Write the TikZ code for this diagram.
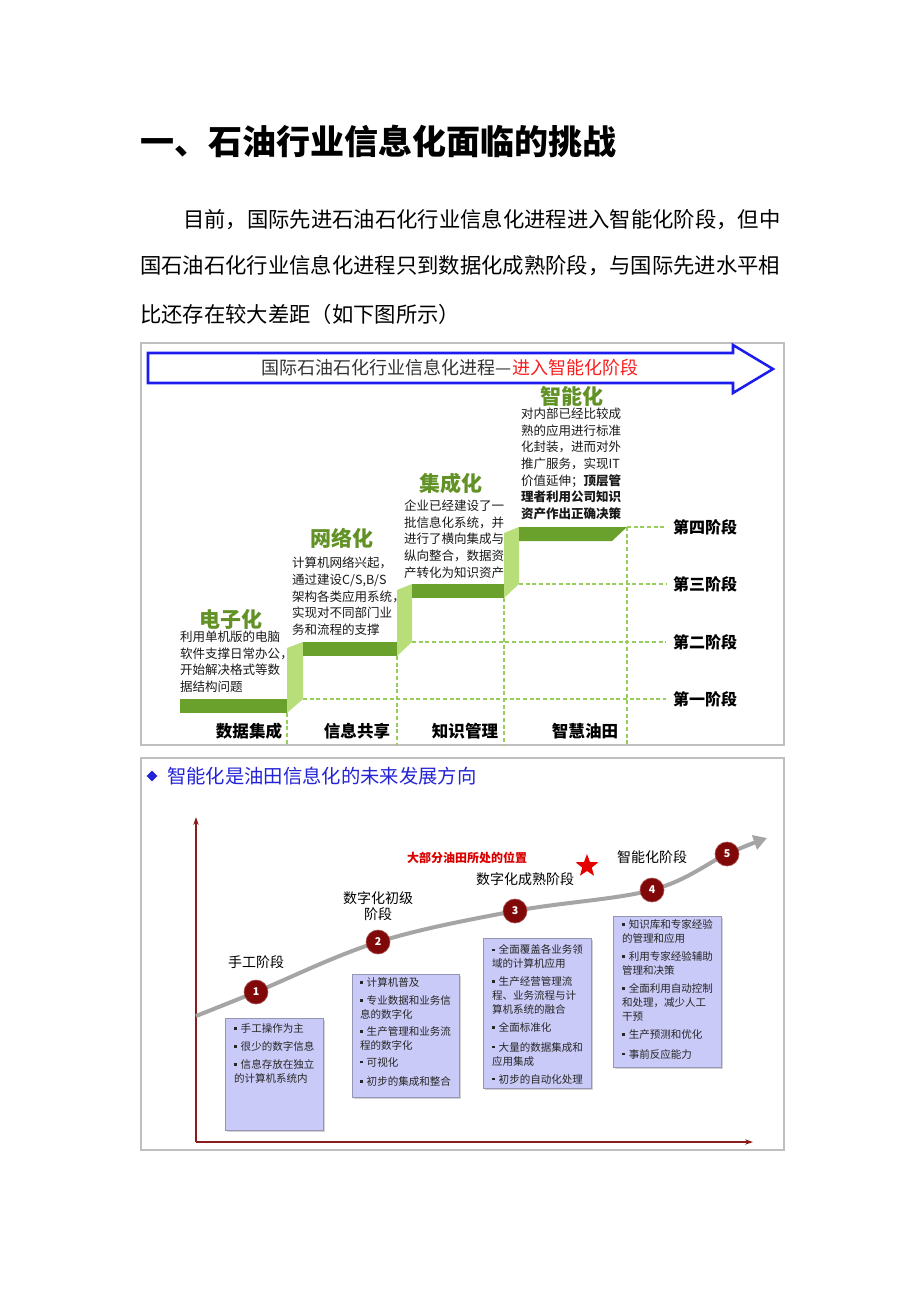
\documentclass[tikz,border=0pt]{standalone}
\usepackage{fontspec}
\setmainfont{Noto Sans CJK SC}
\usetikzlibrary{arrows.meta, positioning, shadows, shapes.geometric}

\definecolor{stepdark}{RGB}{106,160,44}
\definecolor{steplight}{RGB}{184,222,122}
\definecolor{guidegreen}{RGB}{150,206,92}
\definecolor{phasegreen}{RGB}{98,146,38}
\definecolor{bannerblue}{RGB}{28,28,238}
\definecolor{bannerred}{RGB}{250,30,30}
\definecolor{axisred}{RGB}{138,28,28}
\definecolor{ballred}{RGB}{128,8,8}
\definecolor{boxfill}{RGB}{202,202,248}
\definecolor{boxline}{RGB}{150,150,180}
\definecolor{titleblue}{RGB}{36,36,214}
\definecolor{trendgray}{RGB}{165,165,165}

\newcommand{\bulsq}{\rule[0.28em]{0.24em}{0.24em}\hspace{0.4em}}

\tikzset{
	every node/.style={inner sep=0pt, outer sep=0pt},
	heading/.style={anchor=west, font=\fontsize{25.5}{30}\selectfont\bfseries},
	para/.style={anchor=west, font=\fontsize{16}{20}\selectfont},
	frame/.style={draw=gray!50, line width=0.8pt},
	banner/.style={draw=bannerblue, line width=1.9pt, fill=white, line join=miter},
	tread/.style={fill=stepdark},
	riser/.style={fill=steplight},
	guide/.style={draw=guidegreen, line width=0.8pt, dash pattern=on 3pt off 2pt},
	stagelabel/.style={font=\fontsize{12}{14}\selectfont\bfseries},
	area/.style={font=\fontsize{12.4}{14}\selectfont\bfseries},
	phase/.style={font=\fontsize{15.75}{18}\selectfont\bfseries, text=phasegreen},
	blurb/.style={anchor=north west, align=left, font=\fontsize{9.4}{12.5}\selectfont, text=black!90},
	axis/.style={draw=axisred, line width=1.3pt, -{Stealth[length=6pt, width=4pt]}},
	trend/.style={draw=trendgray, line width=3pt, -{Triangle[length=10pt, width=11pt]}},
	ball/.style={circle, fill=ballred, draw=ballred!70!white, line width=0.5pt, minimum size=18pt, text=white, font=\fontsize{8}{9}\selectfont\bfseries},
	lbl/.style={font=\fontsize{10.5}{12}\selectfont},
	panel/.style={anchor=north west, fill=boxfill, draw=boxline, line width=0.5pt, drop shadow={shadow xshift=1.5pt, shadow yshift=-1.5pt, fill=black!35}},
	panelnote/.style={anchor=north west, align=left, font=\fontsize{7.9}{10.5}\selectfont, text=black!85},
}

\begin{document}
\begin{tikzpicture}[x=0.75pt, y=-0.75pt]
	\fill[white] (0,0) rectangle (920,1302);
	\useasboundingbox (0,0) rectangle (920,1302);
	\node[heading] (head) at (140,141) {一、石油行业信息化面临的挑战};
	\node[para] (line1) at (183,220) {目前，国际先进石油石化行业信息化进程进入智能化阶段，但中};
	\node[para] (line2) at (140,266) {国石油石化行业信息化进程只到数据化成熟阶段，与国际先进水平相};
	\node[para] (line3) at (140,314) {比还存在较大差距（如下图所示）};

	\draw[frame] (141,343) rectangle (784,745);
	\draw[banner] (148,353) -- (733,353) -- (733,345) -- (773,369) -- (733,393) -- (733,383) -- (148,383) -- cycle;
	\node[font=\fontsize{13.5}{16}\selectfont, text=black!80] (bannertext) at (450,368) {国际石油石化行业信息化进程—\textcolor{bannerred}{进入智能化阶段}};

	\node[stagelabel] (s1) at (705,699) {第一阶段};
	\node[stagelabel] (s2) at (705,642) {第二阶段};
	\node[stagelabel] (s3) at (705,584) {第三阶段};
	\node[stagelabel] (s4) at (705,527) {第四阶段};
	\draw[guide, shorten >=5pt] (303,699) -- (s1);
	\draw[guide, shorten >=5pt] (412,642) -- (s2);
	\draw[guide, shorten >=5pt] (519,584) -- (s3);
	\draw[guide, shorten >=5pt] (627,527) -- (s4);
	\draw[guide] (287,713) -- (287,745);
	\draw[guide] (397,656) -- (397,745);
	\draw[guide] (504,598) -- (504,745);
	\draw[guide] (627,527) -- (627,745);

	\fill[tread] (180,699) rectangle (287,713);
	\fill[riser] (287,713) -- (303,699) -- (303,642) -- (287,648) -- cycle;
	\fill[tread] (303,642) rectangle (397,656);
	\fill[riser] (397,656) -- (412,642) -- (412,584) -- (397,590) -- cycle;
	\fill[tread] (412,584) rectangle (504,598);
	\fill[riser] (504,598) -- (519,584) -- (519,527) -- (504,533) -- cycle;
	\fill[tread] (519,527) -- (627,527) -- (612,541) -- (519,541) -- cycle;

	\node[area] (k1) at (249,731) {数据集成};
	\node[area] (k2) at (357,731) {信息共享};
	\node[area] (k3) at (465,731) {知识管理};
	\node[area] (k4) at (585,731) {智慧油田};

	\node[phase] (ph1) at (231,619) {电子化};
	\node[blurb] (bl1) at (180,631) {利用单机版的电脑\\软件支撑日常办公，\\开始解决格式等数\\据结构问题};
	\node[phase] (ph2) at (342,538) {网络化};
	\node[blurb] (bl2) at (292,557) {计算机网络兴起，\\通过建设C/S,B/S\\架构各类应用系统，\\实现对不同部门业\\务和流程的支撑};
	\node[phase] (ph3) at (451,483) {集成化};
	\node[blurb] (bl3) at (404,500) {企业已经建设了一\\批信息化系统，并\\进行了横向集成与\\纵向整合，数据资\\产转化为知识资产};
	\node[phase] (ph4) at (572,396) {智能化};
	\node[blurb] (bl4) at (521,408) {对内部已经比较成\\熟的应用进行标准\\化封装，进而对外\\推广服务，实现IT\\价值延伸；\textbf{顶层管}\\\textbf{理者利用公司知识}\\\textbf{资产作出正确决策}};

	\draw[frame] (141,758) rectangle (784,1150);
	\node[diamond, fill=titleblue, minimum size=8pt] (mark) at (152,776) {};
	\node[anchor=west, font=\fontsize{14.5}{17}\selectfont, text=titleblue] (title) at (167,776) {智能化是油田信息化的未来发展方向};

	\coordinate (o) at (196,1142);
	\draw[axis] (o) -- (196,817);
	\draw[axis] (o) -- (753,1142);
	\coordinate (p0) at (196,1016);
	\coordinate (p1) at (256,992);
	\coordinate (p2) at (378,942);
	\coordinate (p3) at (515,911);
	\coordinate (p4) at (652,890);
	\coordinate (p5) at (727,854);
	\coordinate (pe) at (767,838);
	\draw[trend] plot[smooth, tension=0.6] coordinates {(p0) (p1) (p2) (p3) (p4) (p5) (pe)};
	\foreach \i in {1,...,5}
		\node[ball] (n\i) at (p\i) {\i};

	\node[lbl] (m1) at (256,962) {手工阶段};
	\node[lbl, align=center] (m2) at (378,906) {数字化初级\\阶段};
	\node[lbl] (m3) at (525,879) {数字化成熟阶段};
	\node[lbl] (m4) at (652,857) {智能化阶段};
	\node[font=\fontsize{9}{11}\selectfont\bfseries, text=red!85!black] (most) at (467,858) {大部分油田所处的位置};
	\node[star, star points=5, star point ratio=2.4, fill=red!90!black, minimum size=18pt] (here) at (587,866) {};

	\node[panel, minimum width=73.5pt, minimum height=84pt] (box1) at (225,1018) {};
	\node[panelnote] (note1) at ([shift={(9,6)}]box1.north west) {\bulsq 手工操作为主\\[3pt]\bulsq 很少的数字信息\\[3pt]\bulsq 信息存放在独立\\的计算机系统内};
	\node[panel, minimum width=80.25pt, minimum height=92.25pt] (box2) at (352,974) {};
	\node[panelnote] (note2) at ([shift={(8,4)}]box2.north west) {\bulsq 计算机普及\\[3pt]\bulsq 专业数据和业务信\\息的数字化\\[2pt]\bulsq 生产管理和业务流\\程的数字化\\[2pt]\bulsq 可视化\\[4pt]\bulsq 初步的集成和整合};
	\node[panel, minimum width=81pt, minimum height=112.5pt] (box3) at (483,938) {};
	\node[panelnote] (note3) at ([shift={(9,7)}]box3.north west) {\bulsq 全面覆盖各业务领\\域的计算机应用\\[3pt]\bulsq 生产经营管理流\\程、业务流程与计\\算机系统的融合\\[3pt]\bulsq 全面标准化\\[4pt]\bulsq 大量的数据集成和\\应用集成\\[3pt]\bulsq 初步的自动化处理};
	\node[panel, minimum width=81pt, minimum height=113.25pt] (box4) at (613,916) {};
	\node[panelnote] (note4) at ([shift={(9,4)}]box4.north west) {\bulsq 知识库和专家经验\\的管理和应用\\[3pt]\bulsq 利用专家经验辅助\\管理和决策\\[3pt]\bulsq 全面利用自动控制\\和处理，减少人工\\干预\\[3pt]\bulsq 生产预测和优化\\[4pt]\bulsq 事前反应能力};
\end{tikzpicture}
\end{document}
